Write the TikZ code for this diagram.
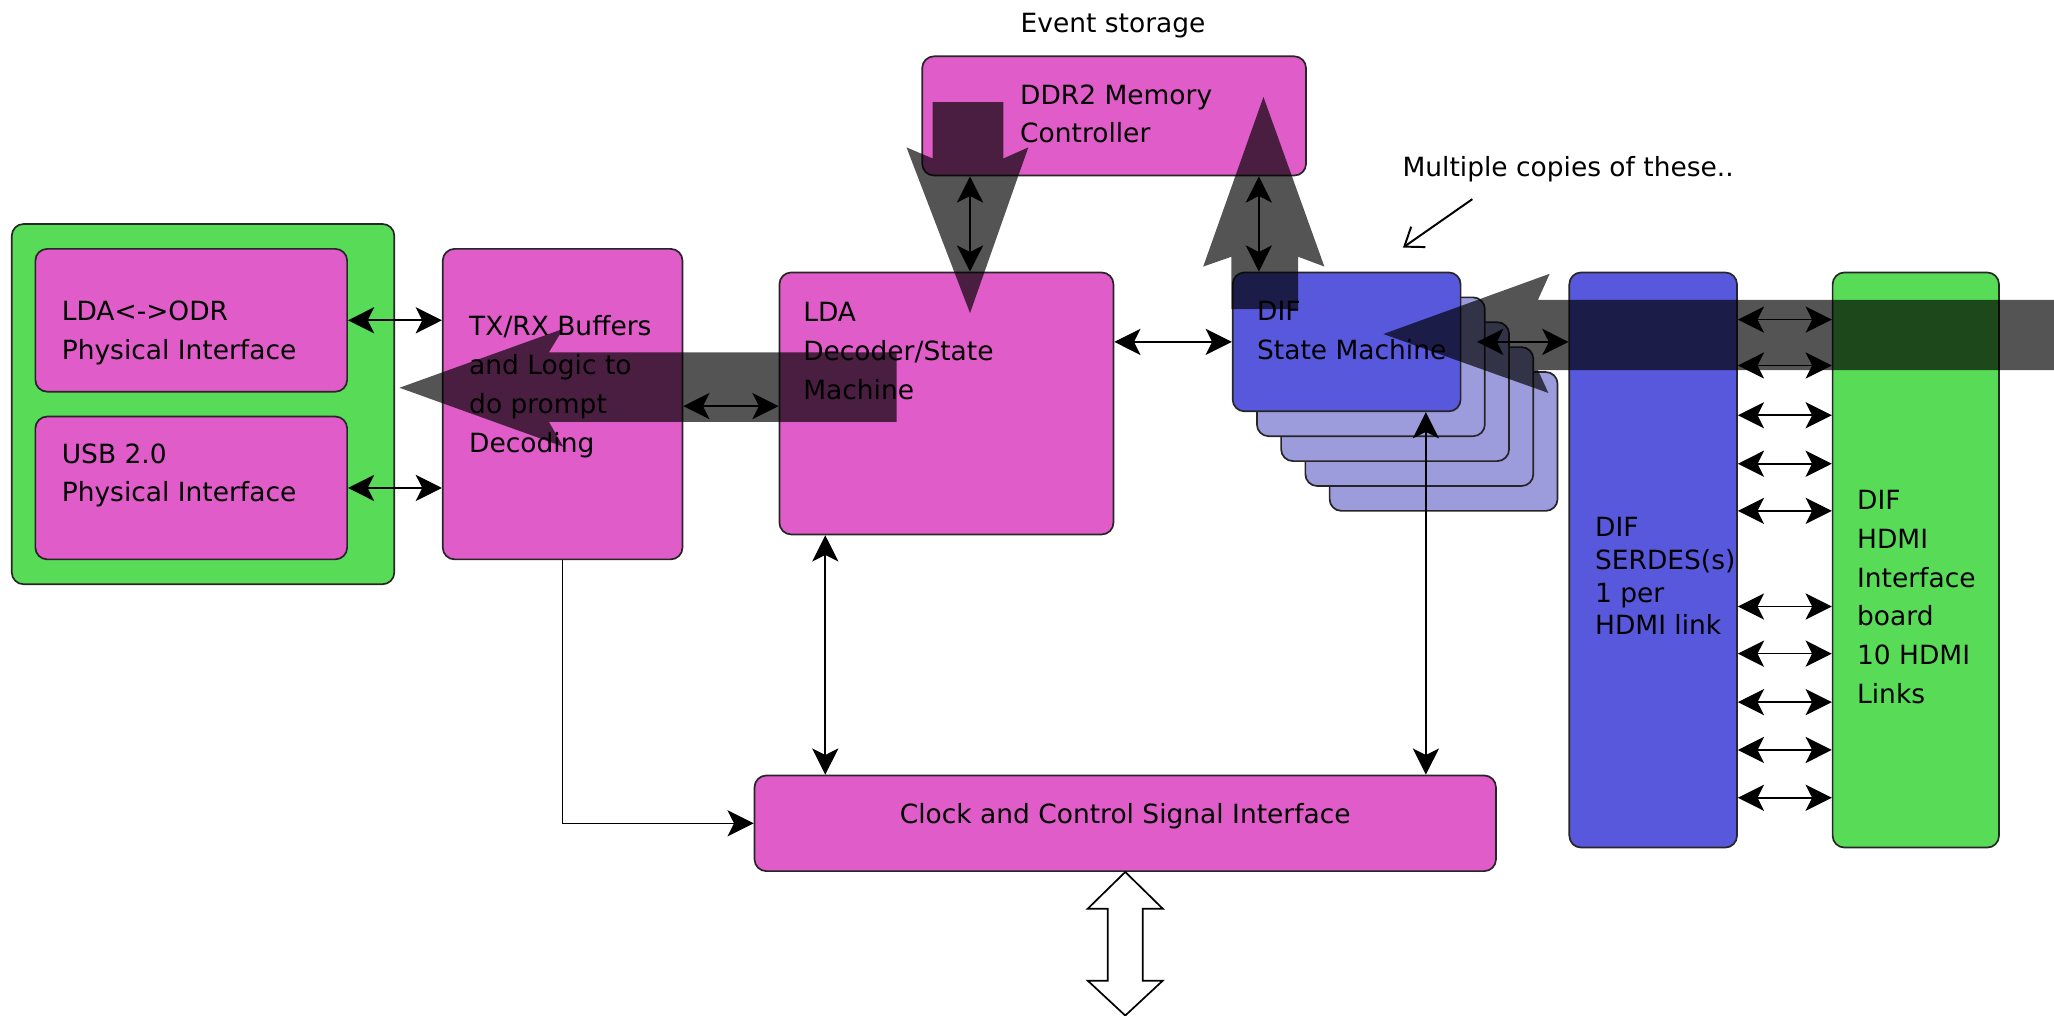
\documentclass[tikz,border=0pt]{standalone}
\usepackage{fontspec}
\setmainfont{DejaVu Sans}
\usetikzlibrary{arrows.meta}
\definecolor{mag}{HTML}{E05CC8}
\definecolor{grn}{HTML}{58DC58}
\definecolor{blu}{HTML}{5858DC}
\definecolor{lblu}{HTML}{9C9CDC}
\definecolor{edge}{HTML}{262626}
\newcommand\mylines[1]{\begin{tabular}[t]{@{}l@{}}#1\end{tabular}}
\begin{document}
\begin{tikzpicture}[x=1pt,y=-1pt,
  box/.style={draw=edge, line width=1.3pt, rounded corners=9pt, inner sep=0pt},
  txt/.style={anchor=base west, inner sep=0pt, font=\fontsize{20.2}{29.6}\selectfont, text=black},
  txtb/.style={txt, font=\fontsize{20.2}{25}\selectfont},
  tipS/.style={},
  dbl/.style={line width=1.2pt, draw=black,
    {Stealth[length=20pt,width=20pt,inset=5pt]}-{Stealth[length=20pt,width=20pt,inset=5pt]}},
  arr/.style={line width=1.2pt, draw=black, -{Stealth[length=20pt,width=20pt,inset=5pt]}},
  barb/.style={line width=1.5pt, draw=black, -{Straight Barb[length=13pt,width=19pt]}},
  hollow/.style={draw=black, line width=1.3pt, fill=white, line join=miter},
  ov/.style={fill=black, fill opacity=0.67, draw=none}
]
\useasboundingbox (0,0) rectangle (1568,775.6);

% ---- boxes
\node[box, fill=grn, minimum width=292pt, minimum height=275pt] (grnbox) at (155,308.5) {};
\node[box, fill=mag, minimum width=238pt, minimum height=109pt] (ldaodr) at (146,244.5) {};
\node[box, fill=mag, minimum width=238pt, minimum height=109pt] (usb) at (146,372.5) {};
\node[box, fill=mag, minimum width=183pt, minimum height=237pt] (txrx) at (429.5,308.5) {};
\node[box, fill=mag, minimum width=255pt, minimum height=200pt] (ldadec) at (722.5,308) {};
\node[box, fill=mag, minimum width=293pt, minimum height=91pt] (ddr) at (850.5,88.5) {};
\foreach \k in {4,3,2,1}
  \node[box, fill=lblu, minimum width=174pt, minimum height=106pt] (st\k) at ({1028+18.5*\k},{261+19*\k}) {};
\node[box, fill=blu, minimum width=174pt, minimum height=106pt] (dif) at (1028,261) {};
\node[box, fill=blu, minimum width=128pt, minimum height=439pt] (serdes) at (1262,427.5) {};
\node[box, fill=grn, minimum width=127pt, minimum height=439pt] (hdmi) at (1462.5,427.5) {};
\node[box, fill=mag, minimum width=566pt, minimum height=73pt] (clock) at (859,628.5) {};

% ---- texts
\node[txt] (evt) at (779,24.8) {Event storage};
\node[txt] (ddrtxt) at (778.6,79.4) {\mylines{DDR2 Memory\\Controller}};
\node[txt] (ldaodrtxt) at (47,244.8) {\mylines{LDA<->ODR\\Physical Interface}};
\node[txt] (usbtxt) at (47,353.5) {\mylines{USB 2.0\\Physical Interface}};
\node[txt] (txrxtxt) at (358,256.4) {\mylines{TX/RX Buffers\\and Logic to\\do prompt\\Decoding}};
\node[txt] (ldadectxt) at (613,245.6) {\mylines{LDA\\Decoder/State\\Machine}};
\node[txt] (diftxt) at (959.5,245) {\mylines{DIF\\State Machine}};
\node[txtb] (serdestxt) at (1217.5,409.7) {\mylines{DIF\\SERDES(s)\\1 per\\HDMI link}};
\node[txt] (hdmitxt) at (1417.5,389) {\mylines{DIF\\HDMI\\Interface\\board\\10 HDMI\\Links}};
\node[txt, anchor=base] (clocktxt) at (clock.center |- 0,629) {Clock and Control Signal Interface};
\node[txt] (multtxt) at (1070.5,134.5) {Multiple copies of these..};

% ---- connectors
\draw[dbl] (ldaodr.east) -- (ldaodr.east -| txrx.west);
\draw[dbl] (usb.east) -- (usb.east -| txrx.west);
\draw[dbl] (txrx.east |- 0,310) -- (ldadec.west |- 0,310);
\draw[dbl] (ldadec.east |- dif.west) -- (dif.west);
\draw[dbl] (ddr.south -| 740.5,0) -- (ldadec.north -| 740.5,0);
\draw[dbl] (ddr.south -| 961,0) -- (dif.north -| 961,0);
\draw[dbl] ([xshift=12pt]dif.east) -- (dif.east -| serdes.west);
\foreach \yy in {244,279,317,354,390,463,499,536,572.5,609}
  \draw[dbl] (serdes.east |- 0,\yy) -- (hdmi.west |- 0,\yy);
\draw[arr] (txrx.south) |- (clock.west);
\draw[dbl] (ldadec.south -| 630,0) -- (clock.north -| 630,0);
\draw[dbl] (dif.south -| 1088.5,0) -- (clock.north -| 1088.5,0);
\coordinate (mcstart) at (1124,152);
\coordinate (mcend) at (1071,189);
\draw[barb] (mcstart) -- (mcend);

% ---- hollow double arrow below clock box
\draw[hollow] (clock.south) -- ++(28.6,28) -- ++(-15.3,0) -- ++(0,55) -- ++(15.3,0)
  -- ++(-28.6,26.6) -- ++(-28.6,-26.6) -- ++(15.3,0) -- ++(0,-55) -- ++(-15.3,0) -- cycle;

% ---- translucent overlay arrows
\fill[ov] (305,296) -- (430,251) -- (419,269) -- (684.5,269) -- (684.5,322) -- (419,322) -- (430,341) -- cycle;
\fill[ov] (712,78) -- (766,78) -- (766,121) -- (785,112.5) -- (740.5,239) -- (692,112.5) -- (712,121) -- cycle;
\fill[ov] (964.5,74) -- (1011,203.5) -- (991,196) -- (991,236) -- (940,236) -- (940,196) -- (918.5,203.5) -- cycle;
\fill[ov] (1056,255) -- (1183,209) -- (1174,229) -- (1568,229) -- (1568,282.5) -- (1174,282.5) -- (1182,300) -- cycle;
\end{tikzpicture}
\end{document}
